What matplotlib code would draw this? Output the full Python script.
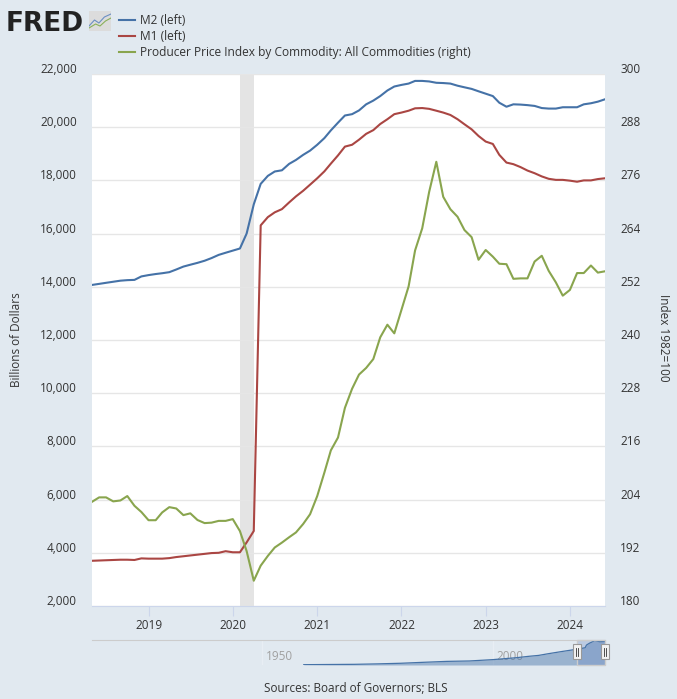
import numpy as np
import pandas as pd
import matplotlib
matplotlib.use("Agg")
import matplotlib.pyplot as plt
from matplotlib.patches import Rectangle
from matplotlib.lines import Line2D
from matplotlib.transforms import ScaledTranslation, blended_transform_factory

plt.rcParams['font.family'] = ['Open Sans', 'DejaVu Sans']

# monthly data, May 2018 .. Jun 2024
dates = pd.date_range('2018-05-01', '2024-06-01', freq='MS')

m2 = [14070, 14110, 14150, 14190, 14230, 14250, 14260, 14390,
      14440, 14480, 14510, 14550, 14650, 14760, 14830, 14900, 14980, 15080, 15200, 15280,
      15360, 15440, 16000, 17100, 17870, 18170, 18335, 18380, 18620, 18770, 18960, 19120,
      19340, 19590, 19880, 20170, 20440, 20490, 20630, 20860, 21000, 21170, 21380, 21530,
      21590, 21640, 21740, 21740, 21720, 21670, 21660, 21640, 21560, 21500, 21440, 21350,
      21260, 21170, 20920, 20770, 20860, 20850, 20830, 20800, 20720, 20700, 20700, 20750,
      20750, 20750, 20860, 20900, 20960, 21050]

m1 = [3700, 3710, 3720, 3730, 3740, 3740, 3730, 3790,
      3780, 3780, 3780, 3800, 3840, 3870, 3900, 3930, 3960, 3990, 4000, 4060,
      4020, 4020, 4390, 4820, 16310, 16620, 16800, 16920, 17170, 17400, 17610, 17840,
      18080, 18340, 18630, 18940, 19270, 19340, 19530, 19750, 19890, 20120, 20300, 20490,
      20550, 20620, 20710, 20720, 20690, 20620, 20550, 20460, 20300, 20110, 19920, 19670,
      19460, 19370, 18960, 18670, 18610, 18500, 18370, 18270, 18150, 18060, 18020, 18020,
      17990, 17950, 18000, 18000, 18050, 18080]

ppi = [203.5, 204.5, 204.5, 203.6, 203.8, 204.8, 202.6, 201.2,
       199.35, 199.35, 201.1, 202.3, 202.0, 200.5, 200.9, 199.4, 198.7, 198.8, 199.2, 199.2,
       199.6, 196.9, 192.4, 185.7, 189.1, 191.3, 193.2, 194.3, 195.5, 196.6, 198.5, 200.7,
       204.8, 210.1, 215.1, 218.0, 224.7, 229.0, 232.2, 233.7, 235.7, 240.6, 243.45, 241.5,
       246.8, 252.1, 260.2, 265.2, 273.4, 280.2, 272.3, 269.5, 267.8, 264.8, 263.2, 258.1,
       260.3, 258.8, 257.2, 257.1, 253.8, 253.9, 253.9, 257.7, 259.0, 255.6, 253.0, 250.0,
       251.3, 255.1, 255.1, 256.8, 255.2, 255.5]

rec_start, rec_end = pd.Timestamp('2020-02-01'), pd.Timestamp('2020-04-01')
left_ticks = list(range(2000, 22001, 2000))
right_ticks = list(range(180, 301, 12))
year_labels = ['2019', '2020', '2021', '2022', '2023', '2024']

# navigator (long M2 history, rough yearly readings)
nav_years = [1959, 1965, 1970, 1975, 1980, 1985, 1990, 1995, 2000, 2005, 2008, 2010,
             2012, 2015, 2018.33, 2020.1, 2020.4, 2021.0, 2022.2, 2023.3, 2024.42]
nav_m2 = [286, 460, 600, 1000, 1540, 2400, 3220, 3600, 4770, 6450, 7800, 8560,
          10000, 12000, 14070, 15400, 17800, 19340, 21740, 20770, 21050]
nav_range = (1913.0, 2024.417)
nav_sel = (2018.333, 2024.417)
nav_labels = [1950, 2000]

BG = '#e1e9f0'
TXT = '#333333'
W, H = 677, 699

fig = plt.figure(figsize=(W / 100, H / 100), dpi=100, facecolor=BG)
ax = fig.add_axes([92 / W, 93 / H, 513 / W, 532 / H])
ax.set_facecolor('white')

ax.axvspan(rec_start, rec_end, color='#e4e4e4', lw=0, zorder=0)
l_m2, = ax.plot(dates, m2, color='#4572a7', lw=1.5, label='M2 (left)', zorder=3)
l_m1, = ax.plot(dates, m1, color='#aa4643', lw=1.5, label='M1 (left)', zorder=3)

ax.set_xlim(dates[0], dates[-1])
ax.set_ylim(2000, 22000)
ax.set_yticks(left_ticks)
ax.set_yticklabels([f'{v:,}' for v in left_ticks])
ax.grid(axis='y', color='#e6e6e6', lw=1, zorder=0)
ax.set_axisbelow(True)
ax.set_xticks(pd.to_datetime([y + '-01-01' for y in year_labels]))
ax.set_xticklabels(year_labels)
for s in ['top', 'left', 'right']:
    ax.spines[s].set_visible(False)
ax.spines['bottom'].set_color('#ccd6eb')
ax.tick_params(axis='x', length=7, color='#ccd6eb', labelsize=8.5, labelcolor=TXT, pad=2.5)
ax.tick_params(axis='y', length=0, labelsize=8.5, labelcolor=TXT, pad=11)

ax2 = ax.twinx()
l_ppi, = ax2.plot(dates, ppi, color='#89a54e', lw=1.5,
                  label='Producer Price Index by Commodity: All Commodities (right)', zorder=3)
ax2.set_ylim(180, 300)
ax2.set_yticks(right_ticks)
for s in ax2.spines.values():
    s.set_visible(False)
ax2.tick_params(axis='y', length=0, labelsize=8.5, labelcolor=TXT, pad=11)

# y labels sit a little above their gridlines
up = ScaledTranslation(0, 0.06, fig.dpi_scale_trans)
for lab in ax.get_yticklabels() + ax2.get_yticklabels():
    lab.set_transform(lab.get_transform() + up)

fig.text(17 / W, 1 - 340 / H, 'Billions of Dollars', rotation=90, ha='center', va='center',
         fontsize=8.5, color=TXT)
fig.text(663 / W, 1 - 338 / H, 'Index 1982=100', rotation=270, ha='center', va='center',
         fontsize=8.5, color=TXT)

fig.legend(handles=[l_m2, l_m1, l_ppi], loc='upper left', bbox_to_anchor=(119 / W, 1 - 14.5 / H),
           frameon=False, fontsize=8.6, handlelength=1.35, handletextpad=0.4,
           labelspacing=0.22, borderaxespad=0, borderpad=0, labelcolor=TXT)

# FRED logo
fig.text(6 / W, 1 - 31 / H, 'FRED', fontsize=19, fontweight='heavy', color='#222222',
         family='DejaVu Sans', va='baseline')
icon = fig.add_axes([89 / W, 1 - 31 / H, 22 / W, 20 / H])
icon.set_facecolor('#dcdcdc')
icon.plot([0, 0.25, 0.45, 0.7, 1], [0.25, 0.55, 0.4, 0.7, 0.85], color='#6b8fc4', lw=0.8)
icon.plot([0, 0.3, 0.5, 0.75, 1], [0.15, 0.35, 0.25, 0.5, 0.65], color='#8ab05a', lw=0.8)
icon.set_xlim(0, 1)
icon.set_ylim(0, 1)
icon.set_xticks([])
icon.set_yticks([])
for s in icon.spines.values():
    s.set_visible(False)

# navigator
nav = fig.add_axes([92 / W, 34 / H, 513 / W, 25 / H])
nav.set_facecolor('none')
nav.set_xlim(*nav_range)
nav.set_ylim(0, 22300)
for yr in nav_labels:
    nav.axvline(yr, color='#e8eef4', lw=1, zorder=0)
    nav.text(yr + 0.8, 0.36, str(yr), transform=blended_transform_factory(nav.transData, nav.transAxes),
             fontsize=8.5, color='#a0a0a0', va='center', ha='left', zorder=1)
nav.fill_between(nav_years, nav_m2, 0, color='#4572a7', alpha=0.45, lw=0, zorder=2)
nav.plot(nav_years, nav_m2, color='#4572a7', lw=0.9, zorder=3)
nav.axvspan(nav_sel[0], nav_sel[1], color='#6685c2', alpha=0.3, lw=0, zorder=2)
bt = blended_transform_factory(nav.transData, nav.transAxes)
nav.add_patch(Rectangle((nav_sel[0], 0), nav_sel[1] - nav_sel[0], 1, transform=bt,
                        fill=False, ec='#cccccc', lw=1, zorder=4, clip_on=False))
hw = 1.7
for xh in nav_sel:
    nav.add_patch(Rectangle((xh - hw / 2, 0.24), hw, 0.6, transform=bt, fc='#f2f2f2',
                            ec='#999999', lw=0.8, zorder=5, clip_on=False))
    for dx in (-0.25, 0.25):
        nav.add_line(Line2D([xh + dx, xh + dx], [0.38, 0.70], transform=bt, color='#333333',
                            lw=0.6, zorder=6, clip_on=False))
nav.set_xticks([])
nav.set_yticks([])
for s in ['bottom', 'left', 'right']:
    nav.spines[s].set_visible(False)
nav.spines['top'].set_color('#cccccc')

fig.text(356 / W, 1 - 689 / H, 'Sources: Board of Governors; BLS', ha='center', va='center',
         fontsize=8.5, color=TXT)

fig.savefig('out.png', dpi=100, facecolor=BG)
